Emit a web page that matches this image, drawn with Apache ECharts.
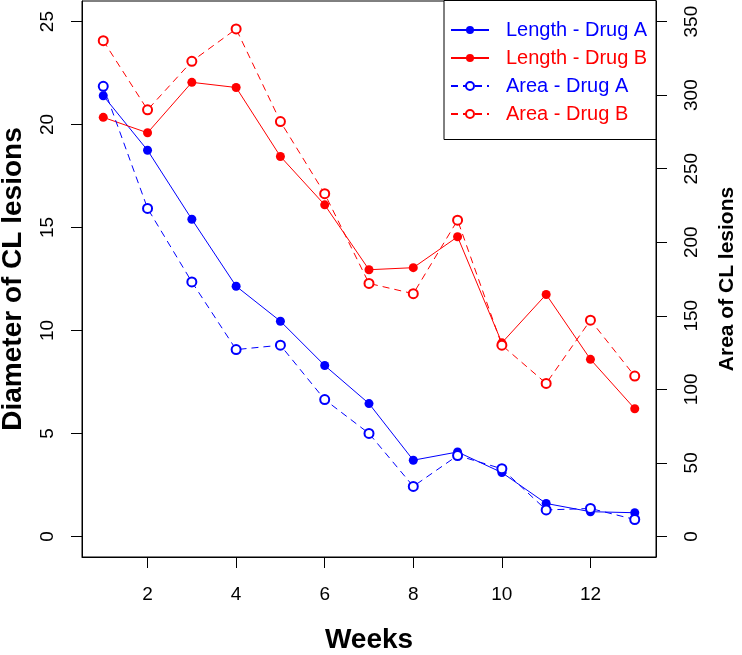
<!DOCTYPE html>
<html>
<head>
<meta charset="utf-8">
<script src="https://cdn.jsdelivr.net/npm/echarts@6/dist/echarts.min.js"></script>
<style>
html,body{margin:0;padding:0;background:#fff;}
#chart{width:742px;height:655px;}
</style>
</head>
<body>
<div id="chart"></div>
<script>
const weeks = [1,2,3,4,5,6,7,8,9,10,11,12,13];
const lengthA = [21.4, 18.75, 15.4, 12.15, 10.45, 8.3, 6.45, 3.7, 4.1, 3.1, 1.6, 1.2, 1.15];
const lengthB = [20.35, 19.6, 22.05, 21.8, 18.45, 16.1, 12.95, 13.05, 14.55, 9.4, 11.75, 8.6, 6.2];
const areaA = [306, 223, 173, 127, 130, 93, 70, 34, 55, 46, 18, 19, 11.5];
const areaB = [337, 290, 323, 345, 282, 233, 172, 165, 215, 130, 104, 147, 109];
const xTicks = [2,4,6,8,10,12];
const leftTicks = [0,5,10,15,20,25];
const rightTicks = [0,50,100,150,200,250,300,350];
const seriesNames = ['Length - Drug A','Length - Drug B','Area - Drug A','Area - Drug B'];

const BLUE = '#0000FF', RED = '#FF0000';
const FONT = 'Liberation Sans, Arial, sans-serif';
const pairs = arr => weeks.map((w,i) => [w, arr[i]]);

const chart = echarts.init(document.getElementById('chart'), null, {renderer:'canvas'});
const tickLbl = {fontFamily: FONT, fontSize: 19, color:'#000'};
const nameStyle = {fontFamily: FONT, fontSize: 28, fontWeight:'bold', color:'#000'};

function mkSeries(name, data, color, filled, dashed, yIdx){
  return {
    name, type:'line', yAxisIndex:yIdx, data: pairs(data),
    symbol: filled ? 'circle' : 'emptyCircle',
    symbolSize: 9,
    showAllSymbol: true,
    lineStyle:{color, width:1, type: dashed ? [7,5] : 'solid'},
    itemStyle:{color, borderColor: color, borderWidth: filled ? 0 : 1.3},
    emphasis:{disabled:true},
    animation:false
  };
}

chart.setOption({
  animation:false,
  backgroundColor:'#fff',
  grid:{left:82, right:86, top:1, bottom:98, show:true, borderColor:'#000', borderWidth:1,
        backgroundColor:'transparent', containLabel:false, outerBoundsMode:'none'},
  xAxis:{
    type:'value', min:0.52, max:13.48,
    name:'Weeks', nameLocation:'middle', nameGap:69, nameTextStyle:nameStyle,
    axisLine:{show:true, onZero:false, lineStyle:{color:'#000'}},
    axisTick:{show:true, length:11, lineStyle:{color:'#000'}, customValues:xTicks},
    axisLabel:{...tickLbl, margin:28, customValues:xTicks},
    splitLine:{show:false}
  },
  yAxis:[{
    type:'value', min:-1, max:26, position:'left',
    name:'Diameter of CL lesions', nameLocation:'middle', nameRotate:90, nameGap:55, nameTextStyle:nameStyle,
    axisLine:{show:true, onZero:false, lineStyle:{color:'#000'}},
    axisTick:{show:true, length:11, lineStyle:{color:'#000'}, customValues:leftTicks},
    axisLabel:{...tickLbl, rotate:90, margin:25, customValues:leftTicks},
    splitLine:{show:false}
  },{
    type:'value', min:-14, max:364, position:'right',
    name:'Area of CL lesions', nameLocation:'middle', nameRotate:90, nameGap:61,
    nameTextStyle:{...nameStyle, fontSize:21},
    axisLine:{show:true, onZero:false, lineStyle:{color:'#000'}},
    axisTick:{show:true, length:11, lineStyle:{color:'#000'}, customValues:rightTicks},
    axisLabel:{...tickLbl, rotate:90, margin:26, customValues:rightTicks},
    splitLine:{show:false}
  }],
  graphic:[{
    type:'rect', z:3, shape:{x:444, y:0.5, width:212, height:139},
    style:{fill:'#fff', stroke:'#000', lineWidth:1}
  }],
  legend:{
    orient:'vertical', left:450, top:20, padding:0, itemGap:8, itemWidth:38, itemHeight:10, z:5,
    selectedMode:false,
    data: seriesNames.map((n,i) => ({name:n, textStyle:{color: i%2===0 ? BLUE : RED}})),
    textStyle:{fontFamily:FONT, fontSize:20, padding:[0,0,0,12]}
  },
  series:[
    mkSeries(seriesNames[0], lengthA, BLUE, true, false, 0),
    mkSeries(seriesNames[1], lengthB, RED, true, false, 0),
    mkSeries(seriesNames[2], areaA, BLUE, false, true, 1),
    mkSeries(seriesNames[3], areaB, RED, false, true, 1)
  ]
});
</script>
</body>
</html>
